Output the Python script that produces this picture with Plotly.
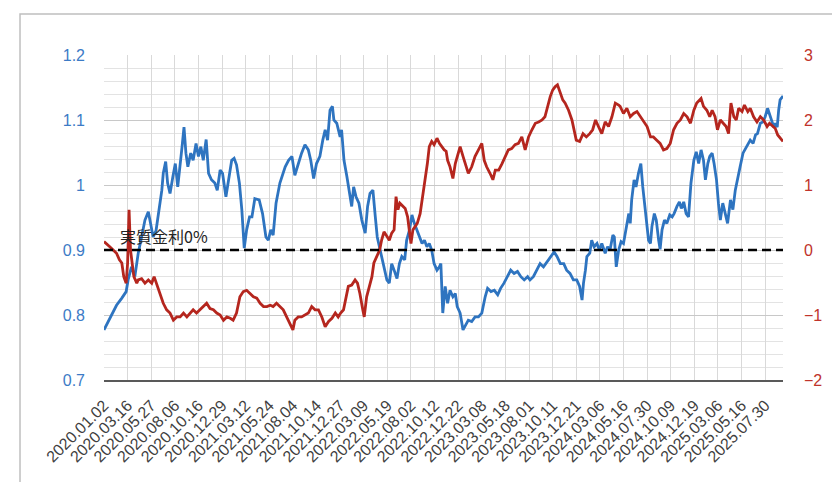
import plotly.graph_objects as go

# ---- data -------------------------------------------------------------
tick_labels = ["2020.01.02", "2020.03.16", "2020.05.27", "2020.08.06", "2020.10.16",
               "2020.12.29", "2021.03.12", "2021.05.24", "2021.08.04", "2021.10.14",
               "2021.12.27", "2022.03.09", "2022.05.19", "2022.08.02", "2022.10.12",
               "2022.12.22", "2023.03.08", "2023.05.18", "2023.08.01", "2023.10.11",
               "2023.12.21", "2024.03.06", "2024.05.16", "2024.07.30", "2024.10.09",
               "2024.12.19", "2025.03.06", "2025.05.16", "2025.07.30"]
days_per_label = 49
last_day = 1409

# (trading-day index, value) – left axis series (blue)
blue_points = [
    (0, 0.777), (12, 0.795), (26, 0.815), (37, 0.826), (46, 0.836), (50, 0.854), (57, 0.874),
    (64, 0.859), (71, 0.895), (78, 0.92), (85, 0.946), (92, 0.959), (97, 0.941), (102, 0.92),
    (108, 0.93), (115, 0.967), (120, 0.992), (123, 1.018), (128, 1.036), (132, 1.003),
    (137, 0.987), (143, 1.013), (148, 1.033), (153, 0.997), (158, 1.038), (162, 1.059),
    (166, 1.089), (170, 1.049), (174, 1.028), (180, 1.049), (185, 1.038), (191, 1.064),
    (196, 1.044), (201, 1.059), (206, 1.038), (212, 1.07), (217, 1.018), (223, 1.008),
    (230, 1.003), (235, 0.992), (241, 1.023), (246, 1.018), (253, 0.982), (258, 1.008),
    (265, 1.038), (270, 1.041), (275, 1.031), (281, 1.003), (286, 0.962), (291, 0.903),
    (296, 0.931), (302, 0.951), (307, 0.951), (313, 0.979), (322, 0.977), (329, 0.956),
    (336, 0.92), (341, 0.915), (346, 0.931), (351, 0.923), (357, 0.972), (365, 1.003),
    (369, 1.013), (376, 1.028), (383, 1.038), (390, 1.044), (396, 1.015), (403, 1.033),
    (410, 1.049), (417, 1.062), (424, 1.054), (429, 1.038), (435, 1.01), (441, 1.033),
    (448, 1.044), (454, 1.069), (459, 1.085), (464, 1.069), (469, 1.115), (474, 1.121),
    (477, 1.1), (483, 1.095), (486, 1.085), (490, 1.074), (493, 1.085), (498, 1.038),
    (504, 1.013), (509, 0.987), (514, 0.967), (518, 0.997), (523, 0.982), (529, 0.972),
    (535, 0.946), (542, 0.926), (547, 0.967), (552, 0.987), (558, 0.992), (563, 0.951),
    (567, 0.92), (573, 0.9), (580, 0.879), (587, 0.854), (592, 0.849), (597, 0.879),
    (602, 0.869), (608, 0.856), (613, 0.879), (618, 0.89), (624, 0.885), (628, 0.915),
    (634, 0.931), (639, 0.954), (644, 0.941), (649, 0.931), (655, 0.92), (660, 0.91),
    (665, 0.915), (670, 0.905), (675, 0.91), (680, 0.9), (685, 0.879), (691, 0.869),
    (696, 0.874), (699, 0.879), (703, 0.803), (708, 0.844), (713, 0.818), (718, 0.838),
    (724, 0.828), (729, 0.833), (733, 0.813), (739, 0.803), (745, 0.777), (749, 0.782),
    (756, 0.792), (763, 0.79), (770, 0.797), (777, 0.797), (784, 0.803), (791, 0.828),
    (796, 0.841), (803, 0.836), (810, 0.838), (817, 0.831), (823, 0.841), (830, 0.849),
    (837, 0.859), (844, 0.869), (851, 0.864), (858, 0.867), (865, 0.859), (872, 0.854),
    (879, 0.859), (884, 0.854), (891, 0.859), (898, 0.869), (905, 0.879), (912, 0.874),
    (919, 0.882), (927, 0.89), (934, 0.897), (940, 0.89), (947, 0.879), (954, 0.879),
    (960, 0.869), (967, 0.864), (974, 0.854), (981, 0.854), (987, 0.844), (992, 0.823),
    (995, 0.849), (999, 0.869), (1002, 0.89), (1008, 0.895), (1012, 0.915), (1017, 0.905),
    (1023, 0.91), (1028, 0.9), (1033, 0.91), (1040, 0.895), (1045, 0.905), (1050, 0.9),
    (1056, 0.923), (1059, 0.92), (1063, 0.874), (1068, 0.9), (1073, 0.913), (1078, 0.91),
    (1084, 0.936), (1089, 0.956), (1092, 0.941), (1095, 0.977), (1100, 1.008), (1104, 0.997),
    (1109, 1.018), (1114, 1.033), (1118, 0.997), (1122, 0.972), (1127, 0.941), (1130, 0.915),
    (1134, 0.91), (1137, 0.936), (1142, 0.956), (1146, 0.946), (1151, 0.915), (1154, 0.901),
    (1158, 0.931), (1163, 0.946), (1168, 0.941), (1174, 0.954), (1179, 0.951), (1183, 0.956),
    (1189, 0.967), (1194, 0.974), (1198, 0.964), (1203, 0.974), (1208, 0.956), (1213, 0.951),
    (1218, 1.003), (1224, 1.038), (1229, 1.051), (1234, 1.033), (1239, 1.054), (1244, 1.038),
    (1248, 1.008), (1253, 1.033), (1257, 1.044), (1262, 1.049), (1266, 1.033), (1271, 1.008),
    (1275, 0.972), (1279, 0.946), (1284, 0.972), (1289, 0.956), (1294, 0.941), (1300, 0.977),
    (1305, 0.962), (1310, 0.992), (1315, 1.013), (1320, 1.028), (1326, 1.049), (1331, 1.056),
    (1336, 1.062), (1341, 1.069), (1347, 1.064), (1352, 1.077), (1356, 1.079), (1362, 1.095),
    (1367, 1.097), (1372, 1.105), (1377, 1.118), (1381, 1.11), (1386, 1.097), (1390, 1.089),
    (1393, 1.095), (1397, 1.089), (1400, 1.115), (1403, 1.131), (1407, 1.135), (1409, 1.133),
]

# (trading-day index, value) – right axis series (red)
red_points = [
    (0, 0.13), (5, 0.1), (12, 0.05), (19, 0.0), (26, -0.05), (32, -0.15), (37, -0.2),
    (41, -0.41), (46, -0.51), (49, -0.2), (52, 0.62), (55, 0.0), (59, -0.26), (62, -0.41),
    (68, -0.51), (71, -0.46), (78, -0.44), (85, -0.51), (92, -0.46), (99, -0.51), (104, -0.41),
    (109, -0.51), (116, -0.67), (123, -0.82), (130, -0.92), (137, -0.97), (144, -1.08),
    (151, -1.03), (158, -1.03), (165, -0.97), (172, -1.03), (179, -0.97), (185, -0.92),
    (192, -0.97), (199, -0.92), (206, -0.87), (213, -0.82), (220, -0.9), (227, -0.92),
    (234, -0.97), (241, -1.0), (248, -1.08), (255, -1.03), (262, -1.05), (268, -1.08),
    (275, -0.97), (282, -0.72), (289, -0.64), (296, -0.62), (303, -0.67), (310, -0.72),
    (317, -0.74), (324, -0.82), (331, -0.87), (338, -0.87), (345, -0.85), (351, -0.87),
    (358, -0.82), (365, -0.87), (372, -0.92), (379, -1.03), (386, -1.13), (392, -1.23),
    (396, -1.08), (403, -1.03), (410, -1.03), (417, -1.0), (424, -0.97), (431, -0.87),
    (438, -0.92), (445, -0.92), (452, -1.03), (459, -1.18), (466, -1.1), (473, -1.05),
    (480, -0.97), (486, -1.03), (491, -0.97), (497, -0.92), (502, -0.72), (507, -0.56),
    (514, -0.54), (521, -0.46), (526, -0.51), (531, -0.67), (537, -0.92), (540, -1.03),
    (545, -0.72), (551, -0.56), (556, -0.41), (560, -0.2), (566, -0.1), (572, 0.0),
    (576, 0.15), (581, 0.28), (587, 0.21), (592, 0.15), (597, 0.26), (602, 0.31),
    (606, 0.82), (610, 0.62), (614, 0.72), (620, 0.67), (625, 0.64), (630, 0.51),
    (634, 0.31), (637, 0.1), (641, 0.31), (646, 0.36), (650, 0.41), (656, 0.56),
    (661, 0.82), (666, 1.03), (671, 1.33), (675, 1.59), (680, 1.67), (685, 1.62),
    (691, 1.72), (696, 1.64), (701, 1.59), (706, 1.54), (710, 1.52), (713, 1.38),
    (718, 1.28), (724, 1.1), (729, 1.33), (733, 1.44), (739, 1.59), (745, 1.44),
    (749, 1.33), (756, 1.18), (763, 1.28), (770, 1.44), (777, 1.54), (784, 1.64),
    (789, 1.38), (794, 1.28), (801, 1.18), (807, 1.08), (812, 1.23), (819, 1.23),
    (826, 1.33), (832, 1.44), (839, 1.54), (846, 1.56), (853, 1.62), (860, 1.64),
    (867, 1.74), (874, 1.54), (881, 1.74), (888, 1.85), (895, 1.95), (902, 1.97),
    (909, 2.0), (915, 2.05), (920, 2.21), (926, 2.36), (931, 2.46), (936, 2.51),
    (941, 2.54), (947, 2.41), (952, 2.31), (957, 2.26), (964, 2.15), (971, 2.0),
    (976, 1.85), (980, 1.69), (987, 1.67), (994, 1.79), (1001, 1.74), (1008, 1.79),
    (1014, 1.85), (1020, 2.0), (1026, 1.9), (1033, 1.79), (1040, 1.97), (1047, 1.9),
    (1054, 2.05), (1061, 2.26), (1068, 2.23), (1071, 2.21), (1078, 2.1), (1085, 2.18),
    (1092, 2.05), (1099, 2.1), (1106, 2.13), (1113, 2.05), (1120, 1.97), (1127, 1.9),
    (1134, 1.74), (1140, 1.74), (1147, 1.69), (1154, 1.64), (1161, 1.54), (1168, 1.56),
    (1175, 1.64), (1182, 1.85), (1189, 1.95), (1196, 2.0), (1203, 2.1), (1210, 2.05),
    (1217, 1.95), (1224, 2.15), (1230, 2.26), (1239, 2.33), (1244, 2.21), (1251, 2.15),
    (1257, 2.05), (1262, 2.15), (1268, 2.05), (1273, 1.85), (1279, 2.0), (1286, 1.95),
    (1291, 1.9), (1296, 1.79), (1301, 2.26), (1307, 2.05), (1312, 2.0), (1317, 2.18),
    (1324, 2.13), (1329, 2.23), (1336, 2.13), (1341, 2.18), (1348, 2.05), (1355, 1.97),
    (1362, 2.05), (1369, 2.0), (1376, 1.9), (1381, 1.95), (1388, 1.9), (1393, 1.87),
    (1398, 1.77), (1403, 1.72), (1409, 1.67),
]

zero_rate = 0.0
zero_label = "実質金利0%"

# ---- figure -----------------------------------------------------------
blue_x, blue_y = zip(*blue_points)
red_x, red_y = zip(*red_points)
tick_vals = [i * days_per_label for i in range(len(tick_labels))]

BLUE = "#2E74C0"
RED = "#B5261E"

fig = go.Figure()
fig.add_trace(go.Scatter(x=blue_x, y=blue_y, mode="lines", yaxis="y",
                         line=dict(color=BLUE, width=2.8), showlegend=False, hoverinfo="skip"))
fig.add_trace(go.Scatter(x=red_x, y=red_y, mode="lines", yaxis="y2",
                         line=dict(color=RED, width=2.8), showlegend=False, hoverinfo="skip"))
fig.add_trace(go.Scatter(x=[0, last_day], y=[zero_rate, zero_rate], mode="lines", yaxis="y2",
                         line=dict(color="#000000", width=2.5, dash="9px,5px"),
                         showlegend=False, hoverinfo="skip"))

fig.add_annotation(x=29, y=zero_rate, xref="x", yref="y2", text=zero_label,
                   showarrow=False, xanchor="left", yanchor="bottom", yshift=0,
                   font=dict(family="Noto Sans CJK JP", size=16, color="#222222"))

# outer chart frame
fig.add_shape(type="rect", xref="paper", yref="paper",
              x0=-0.1237, x1=1.5, y0=-0.5, y1=1.126,
              line=dict(color="#BFBFBF", width=1.5), fillcolor="rgba(0,0,0,0)", layer="below")

fig.update_layout(
    width=832, height=474,
    margin=dict(l=96, r=57, t=47, b=102, autoexpand=False),
    paper_bgcolor="white", plot_bgcolor="white",
    font=dict(family="Liberation Sans, Arial, sans-serif"),
    xaxis=dict(range=[0, last_day], tickmode="array", tickvals=tick_vals, ticktext=tick_labels,
               tickangle=-45, tickfont=dict(size=16, color="#404040"), automargin=False,
               showgrid=True, gridcolor="#D9D9D9", gridwidth=1,
               showline=True, linecolor="#595959", linewidth=1.5,
               zeroline=False, ticks="", ticklabelstandoff=8),
    yaxis=dict(range=[0.7, 1.2], dtick=0.1, tick0=0.7, tickfont=dict(size=16, color="#3C7BC6"),
               showgrid=True, gridcolor="#C8C8C8", gridwidth=1, automargin=False,
               minor=dict(dtick=0.02, showgrid=True, gridcolor="#E3E3E3", gridwidth=1),
               zeroline=False, showline=False, ticks="", ticklabelstandoff=18),
    yaxis2=dict(range=[-2, 3], dtick=1, tick0=-2, overlaying="y", side="right",
                tickfont=dict(size=16, color="#C0332B"), showgrid=False, zeroline=False,
                showline=False, ticks="", ticklabelstandoff=20, automargin=False),
)

fig.write_html("out.html")
